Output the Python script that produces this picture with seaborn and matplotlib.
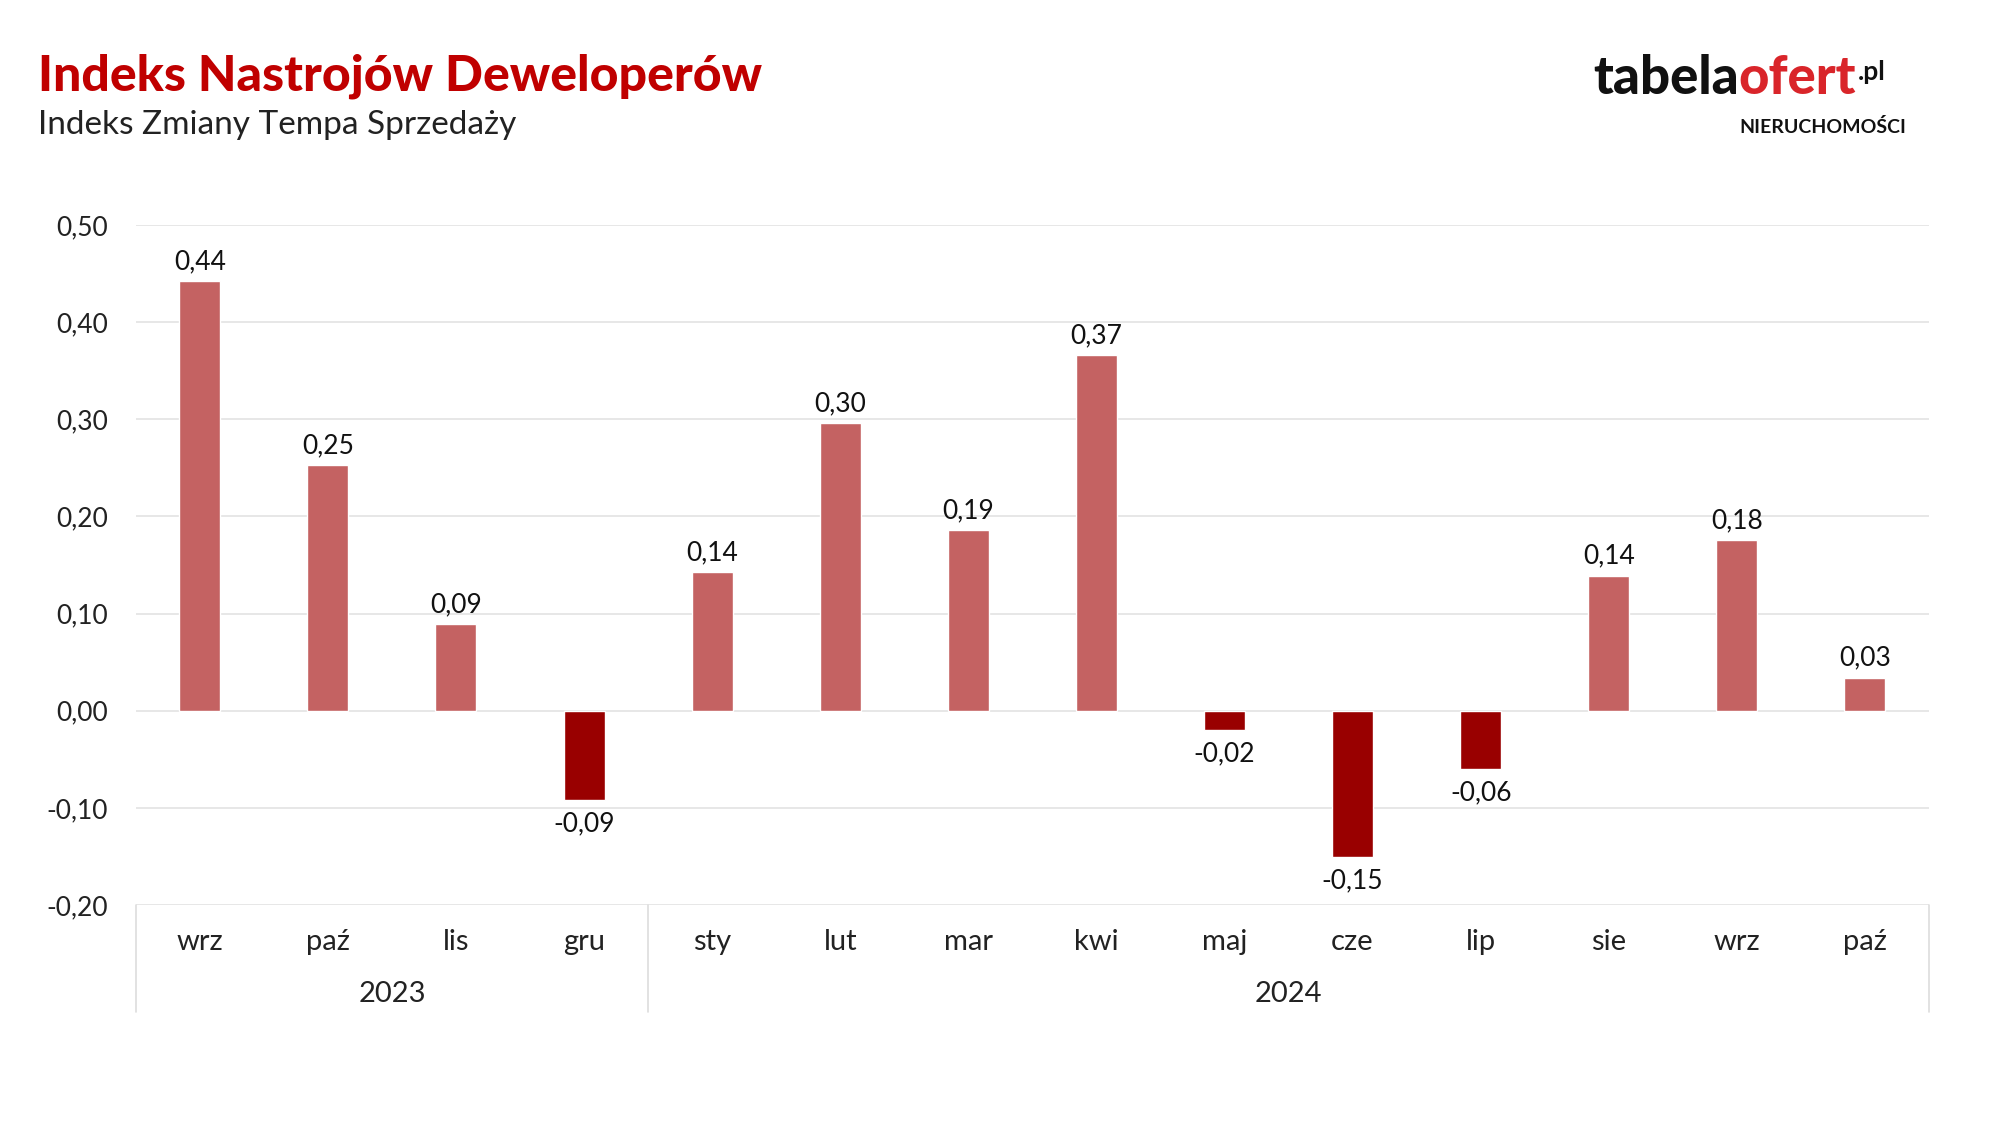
import numpy as np
import pandas as pd
import matplotlib
matplotlib.use("Agg")
import matplotlib.pyplot as plt
import matplotlib.transforms as mtransforms
import seaborn as sns

# data
months = ["wrz", "paź", "lis", "gru", "sty", "lut", "mar", "kwi",
          "maj", "cze", "lip", "sie", "wrz", "paź"]
years = ["2023"] * 4 + ["2024"] * 10
values = [0.442, 0.253, 0.089, -0.092, 0.143, 0.296, 0.186, 0.366,
          -0.020, -0.151, -0.060, 0.139, 0.176, 0.034]
yticks = [-0.2, -0.1, 0.0, 0.1, 0.2, 0.3, 0.4, 0.5]

POS_COLOR = "#C46262"
NEG_COLOR = "#990000"

df = pd.DataFrame({
    "key": [f"{y} {m}" for y, m in zip(years, months)],
    "month": months,
    "year": years,
    "value": values,
})
df["sign"] = np.where(df["value"] >= 0, "pos", "neg")

sns.set_theme(style="white")
plt.rcParams["font.family"] = ["Lato", "DejaVu Sans"]

fig = plt.figure(figsize=(19.96, 11.23), dpi=100)
ax = fig.add_axes([0.068, 0.1941, 0.8984, 0.6055])

sns.barplot(data=df, x="key", y="value", hue="sign",
            palette={"pos": POS_COLOR, "neg": NEG_COLOR},
            dodge=False, width=0.32, legend=False, ax=ax, saturation=1)

ax.set_ylim(-0.2, 0.5)
ax.set_xlim(-0.5, len(df) - 0.5)
ax.set_yticks(yticks)
ax.set_yticklabels([f"{t:.2f}".replace(".", ",") for t in yticks],
                   fontsize=19, color="#222222")
ax.tick_params(axis="y", length=0, pad=20)
ax.grid(axis="y", color="#E3E3E3", linewidth=1.2)
ax.set_axisbelow(True)
for s in ax.spines.values():
    s.set_visible(False)
ax.set_xlabel("")
ax.set_ylabel("")

# month tick labels
ax.set_xticks(range(len(df)))
ax.set_xticklabels(months, fontsize=21, color="#222222")
ax.tick_params(axis="x", length=0, pad=17)

# value labels
for i, v in enumerate(values):
    txt = f"{v:.2f}".replace(".", ",")
    off = 14 if v >= 0 else -17
    ax.annotate(txt, (i, v), xytext=(0, off), textcoords="offset points",
                ha="center", va="center", fontsize=19, color="#111111")

# year group labels and separators below the axis
trans = mtransforms.blended_transform_factory(ax.transData, ax.transAxes)
for x in [-0.5, 3.5, len(df) - 0.5]:
    ax.plot([x, x], [0, -0.157], transform=trans, color="#DDDDDD",
            lw=1.2, clip_on=False)
for yr in ["2023", "2024"]:
    idx = df.index[df["year"] == yr]
    ax.text((idx.min() + idx.max()) / 2, -0.131, yr, transform=trans,
            ha="center", va="center", fontsize=21, color="#222222")

# titles
fig.text(0.019, 0.932, "Indeks Nastrojów Deweloperów", fontsize=36,
         fontweight="black", color="#C00000", va="center", ha="left")
fig.text(0.019, 0.889, "Indeks Zmiany Tempa Sprzedaży", fontsize=24,
         color="#222222", va="center", ha="left")

# logo
lx, ly = 0.798, 0.930
t1 = fig.text(lx, ly, "tabela", fontsize=38, fontweight="black",
              color="#111111", va="center", ha="left")
fig.canvas.draw()
bb = t1.get_window_extent()
x2 = bb.x1 / fig.bbox.width
t2 = fig.text(x2, ly, "ofert", fontsize=38, fontweight="black",
              color="#D9252A", va="center", ha="left")
fig.canvas.draw()
bb = t2.get_window_extent()
x3 = bb.x1 / fig.bbox.width
fig.text(x3 + 0.001, ly + 0.006, ".pl", fontsize=19, fontweight="bold",
         color="#111111", va="center", ha="left")
fig.text(0.955, 0.887, "NIERUCHOMOŚCI", fontsize=14, fontweight="bold",
         color="#111111", va="center", ha="right")

fig.savefig("out.png", dpi=100, facecolor="white")
